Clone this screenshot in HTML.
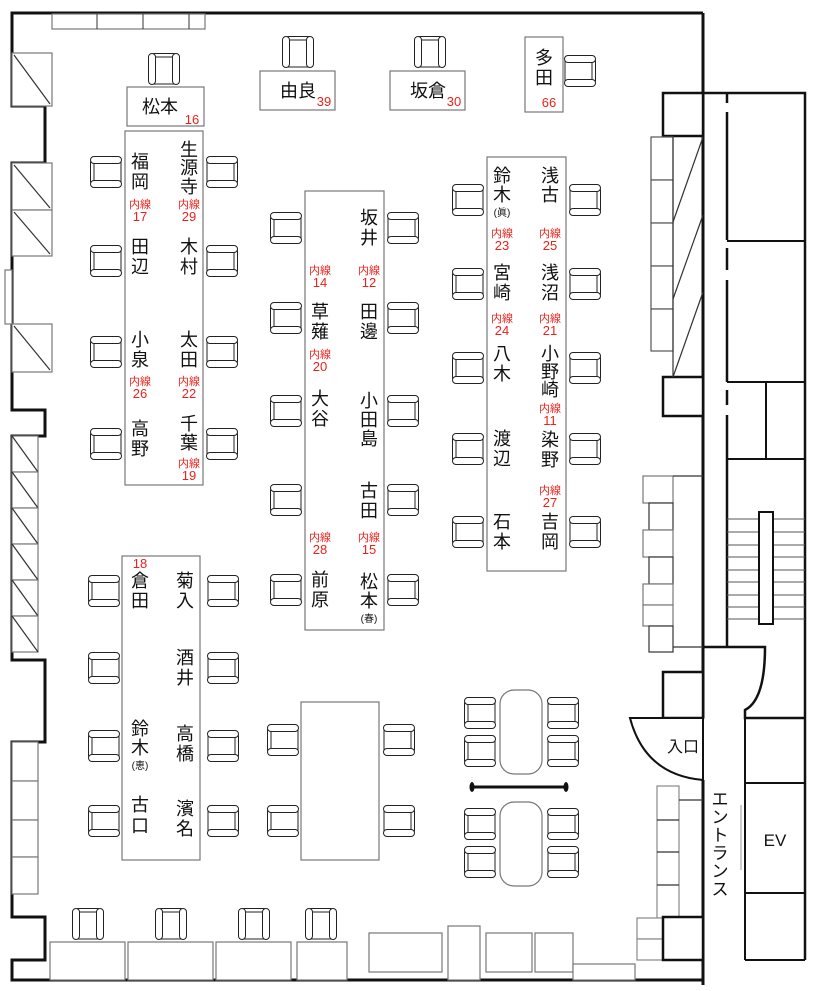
<!DOCTYPE html>
<html><head><meta charset="utf-8"><style>
html,body{margin:0;padding:0;background:#fff}
svg{display:block}
.n{font-family:"Liberation Sans","Noto Sans CJK JP",sans-serif;font-size:18px;text-anchor:middle;fill:#111}
.s{font-family:"Liberation Sans","Noto Sans CJK JP",sans-serif;font-size:10px;text-anchor:middle;fill:#111}
.r{font-family:"Liberation Sans","Noto Sans CJK JP",sans-serif;font-size:11px;text-anchor:middle;fill:#e8231c}
.rn{font-family:"Liberation Sans",sans-serif;font-size:13px;text-anchor:middle;fill:#e8231c}
.g{fill:#fff;stroke:#777;stroke-width:1.2}
.k{fill:none;stroke:#111;stroke-width:3}
.t{fill:none;stroke:#333;stroke-width:1.2}
</style></head><body>
<svg width="816" height="991" viewBox="0 0 816 991" xmlns="http://www.w3.org/2000/svg">
<defs>
<g id="c">
<rect x="0.5" y="3" width="7" height="26" rx="3.5" fill="#fff" stroke="#222" stroke-width="1"/>
<rect x="4" y="6" width="27" height="20" fill="#fff" stroke="#222" stroke-width="1"/>
<rect x="0.5" y="0.5" width="31" height="7" rx="3.5" fill="#fff" stroke="#222" stroke-width="1"/>
<rect x="0.5" y="24.5" width="31" height="7" rx="3.5" fill="#fff" stroke="#222" stroke-width="1"/>
</g>
</defs>
<!-- outer walls -->
<path class="k" d="M703,13 L12,13 L12,106 L45,106 L45,163 L12,163 L12,410 L45,410 L45,436 L12,436 L12,660 L45,660 L45,742 L12,742 L12,917 L45,917 L45,960 L12,960 L12,980 L703,980"/>
<line x1="703" y1="13" x2="703" y2="718" stroke="#111" stroke-width="3"/>
<line x1="703" y1="780" x2="703" y2="985" stroke="#111" stroke-width="3"/>
<!-- top shelf -->
<rect x="52" y="14" width="153" height="15" class="g"/>
<line x1="97" y1="14" x2="97" y2="29" stroke="#333"/><line x1="143" y1="14" x2="143" y2="29" stroke="#333"/><line x1="189" y1="14" x2="189" y2="29" stroke="#333"/>
<!-- left window panels -->
<g class="t">
<rect x="12" y="53" width="40" height="53" fill="#fff" stroke="#777"/><line x1="14" y1="55" x2="50" y2="104"/>
<rect x="12" y="163" width="40" height="47" fill="#fff" stroke="#777"/><line x1="14" y1="165" x2="50" y2="208"/>
<rect x="12" y="210" width="40" height="46" fill="#fff" stroke="#777"/><line x1="14" y1="212" x2="50" y2="254"/>
<rect x="5" y="270" width="7" height="54" fill="#fff" stroke="#777"/>
<rect x="12" y="324" width="40" height="48" fill="#fff" stroke="#777"/><line x1="14" y1="326" x2="50" y2="370"/>
<rect x="12" y="436" width="26" height="36" fill="#fff" stroke="#777"/><line x1="12" y1="436" x2="38" y2="472"/>
<rect x="12" y="472" width="26" height="36" fill="#fff" stroke="#777"/><line x1="12" y1="472" x2="38" y2="508"/>
<rect x="12" y="508" width="26" height="36" fill="#fff" stroke="#777"/><line x1="12" y1="508" x2="38" y2="544"/>
<rect x="12" y="544" width="26" height="36" fill="#fff" stroke="#777"/><line x1="12" y1="544" x2="38" y2="580"/>
<rect x="12" y="580" width="26" height="36" fill="#fff" stroke="#777"/><line x1="12" y1="580" x2="38" y2="616"/>
<rect x="12" y="616" width="26" height="36" fill="#fff" stroke="#777"/><line x1="12" y1="616" x2="38" y2="652"/>
<rect x="12" y="742" width="26" height="39" fill="#fff" stroke="#777"/>
<rect x="12" y="781" width="26" height="39" fill="#fff" stroke="#777"/>
<rect x="12" y="820" width="26" height="37" fill="#fff" stroke="#777"/>
<rect x="12" y="857" width="26" height="37" fill="#fff" stroke="#777"/>
</g>
<!-- right corridor & rooms -->
<rect x="663" y="93" width="40" height="43" fill="#fff" stroke="#111" stroke-width="2.5"/>
<rect x="663" y="377" width="40" height="39" fill="#fff" stroke="#111" stroke-width="2.5"/>
<g class="t">
<rect x="651" y="137" width="22" height="43" fill="#fff" stroke="#555"/>
<rect x="651" y="180" width="22" height="43" fill="#fff" stroke="#555"/>
<rect x="651" y="223" width="22" height="43" fill="#fff" stroke="#555"/>
<rect x="651" y="266" width="22" height="43" fill="#fff" stroke="#555"/>
<rect x="651" y="309" width="22" height="42" fill="#fff" stroke="#555"/>
<line x1="673" y1="137" x2="673" y2="377"/>
<line x1="703" y1="137" x2="673" y2="222"/><line x1="703" y1="215" x2="673" y2="299"/><line x1="703" y1="292" x2="673" y2="377"/>
</g>
<path d="M727,93 V103 M727,112 V240 M727,248 V270 M727,280 V382 M727,390 V405 M727,415 V647" stroke="#111" stroke-width="2.5" fill="none"/>
<path d="M703,93 H805 V718" stroke="#111" stroke-width="2.5" fill="none"/>
<line x1="727" y1="241" x2="805" y2="241" stroke="#111" stroke-width="2"/>
<line x1="727" y1="382" x2="805" y2="382" stroke="#111" stroke-width="2"/>
<line x1="766" y1="382" x2="766" y2="459" stroke="#111" stroke-width="2"/>
<line x1="727" y1="459" x2="805" y2="459" stroke="#111" stroke-width="2"/>
<g stroke="#555" stroke-width="1">
<line x1="727" y1="519" x2="805" y2="519"/><line x1="727" y1="532" x2="805" y2="532"/><line x1="727" y1="545" x2="805" y2="545"/><line x1="727" y1="557" x2="805" y2="557"/><line x1="727" y1="570" x2="805" y2="570"/><line x1="727" y1="582" x2="805" y2="582"/><line x1="727" y1="595" x2="805" y2="595"/><line x1="727" y1="607" x2="805" y2="607"/><line x1="727" y1="619" x2="805" y2="619"/>
</g>
<rect x="759" y="512" width="14" height="112" fill="#fff" stroke="#111" stroke-width="2"/>
<g class="t">
<rect x="643" y="476" width="30" height="27" fill="#fff" stroke="#777"/>
<rect x="649" y="503" width="24" height="27" fill="#fff"/>
<rect x="643" y="530" width="30" height="27" fill="#fff" stroke="#777"/>
<rect x="649" y="557" width="24" height="27" fill="#fff"/>
<rect x="643" y="584" width="30" height="21" fill="#fff" stroke="#777"/>
<rect x="643" y="605" width="30" height="21" fill="#fff" stroke="#777"/>
<rect x="649" y="626" width="24" height="26" fill="#fff"/>
<line x1="673" y1="476" x2="703" y2="476"/><line x1="673" y1="647" x2="703" y2="647"/>
</g>
<path d="M703,647 H765 Q765,700 745,710 V718 H805" stroke="#111" stroke-width="2.5" fill="none"/>
<rect x="663" y="672" width="40" height="46" fill="#fff" stroke="#111" stroke-width="2.5"/>
<path d="M630,718 H703 V780 Q645,775 630,718 Z" fill="#fff" stroke="#111" stroke-width="2"/>
<text class="n" x="683" y="752" style="font-size:16px">入口</text>
<line x1="745" y1="718" x2="745" y2="960" stroke="#111" stroke-width="2"/>
<line x1="805" y1="718" x2="805" y2="960" stroke="#111" stroke-width="2.5"/>
<line x1="745" y1="783" x2="805" y2="783" stroke="#111" stroke-width="2"/>
<line x1="745" y1="893" x2="805" y2="893" stroke="#111" stroke-width="2"/>
<line x1="745" y1="960" x2="805" y2="960" stroke="#111" stroke-width="2"/>
<line x1="741" y1="805" x2="741" y2="870" stroke="#999" stroke-width="1"/>
<text class="n" x="775" y="846" style="font-size:17px">EV</text>
<g class="n" style="font-size:17px">
<text x="720" y="805">エ</text><text x="720" y="823">ン</text><text x="720" y="841">ト</text><text x="720" y="859">ラ</text><text x="720" y="877">ン</text><text x="720" y="895">ス</text>
</g>
<g class="t">
<rect x="657" y="786" width="22" height="132" fill="#fff" stroke="#888"/>
<line x1="657" y1="820" x2="679" y2="820"/><line x1="657" y1="852" x2="679" y2="852"/><line x1="657" y1="885" x2="679" y2="885"/>
<line x1="679" y1="800" x2="703" y2="800"/>
<rect x="637" y="918" width="26" height="21" fill="#fff" stroke="#888"/>
<rect x="637" y="939" width="26" height="21" fill="#fff" stroke="#888"/>
</g>
<rect x="663" y="917" width="40" height="43" fill="#fff" stroke="#111" stroke-width="2.5"/>
<!-- bottom furniture -->
<g class="g">
<rect x="50" y="942" width="75" height="38"/><rect x="128" y="942" width="85" height="38"/><rect x="216" y="942" width="75" height="38"/><rect x="297" y="942" width="50" height="38"/>
<rect x="369" y="933" width="73" height="39"/><rect x="448" y="926" width="32" height="54"/><rect x="486" y="933" width="46" height="39"/><rect x="535" y="933" width="38" height="39"/><rect x="573" y="964" width="62" height="16"/>
</g>
<use href="#c" transform="translate(104,908) rotate(90)"/>
<use href="#c" transform="translate(187,908) rotate(90)"/>
<use href="#c" transform="translate(270,908) rotate(90)"/>
<use href="#c" transform="translate(337,908) rotate(90)"/>
<!-- top desks -->
<rect x="127" y="87" width="77" height="39" class="g"/>
<use href="#c" transform="translate(180,53) rotate(90)"/>
<text class="n" x="160" y="113">松本</text><text class="rn" x="192" y="124">16</text>
<rect x="260" y="71" width="75" height="39" class="g"/>
<use href="#c" transform="translate(314,36) rotate(90)"/>
<text class="n" x="298" y="97">由良</text><text class="rn" x="324" y="106">39</text>
<rect x="390" y="71" width="75" height="39" class="g"/>
<use href="#c" transform="translate(446,36) rotate(90)"/>
<text class="n" x="428" y="97">坂倉</text><text class="rn" x="454" y="106">30</text>
<rect x="525" y="37" width="38" height="75" class="g"/>
<use href="#c" transform="translate(596,55) scale(-1,1)"/>
<text class="n" x="544" y="64">多</text><text class="n" x="544" y="84">田</text><text class="rn" x="549" y="107">66</text>
<!-- Table A -->
<rect x="125" y="131" width="78" height="354" class="g"/>
<use href="#c" x="90" y="156"/><use href="#c" x="90" y="245"/><use href="#c" x="90" y="336"/><use href="#c" x="90" y="428"/>
<use href="#c" transform="translate(238,156) scale(-1,1)"/><use href="#c" transform="translate(238,245) scale(-1,1)"/><use href="#c" transform="translate(238,336) scale(-1,1)"/><use href="#c" transform="translate(238,428) scale(-1,1)"/>
<text class="n" x="140" y="168">福</text><text class="n" x="140" y="188">岡</text>
<text class="r" x="140" y="208">内線</text><text class="rn" x="140" y="221">17</text>
<text class="n" x="140" y="253">田</text><text class="n" x="140" y="273">辺</text>
<text class="n" x="140" y="346">小</text><text class="n" x="140" y="366">泉</text>
<text class="r" x="140" y="385">内線</text><text class="rn" x="140" y="398">26</text>
<text class="n" x="140" y="435">高</text><text class="n" x="140" y="455">野</text>
<text class="n" x="189" y="156">生</text><text class="n" x="189" y="174">源</text><text class="n" x="189" y="193">寺</text>
<text class="r" x="189" y="208">内線</text><text class="rn" x="189" y="221">29</text>
<text class="n" x="189" y="253">木</text><text class="n" x="189" y="273">村</text>
<text class="n" x="189" y="346">太</text><text class="n" x="189" y="366">田</text>
<text class="r" x="189" y="385">内線</text><text class="rn" x="189" y="398">22</text>
<text class="n" x="189" y="430">千</text><text class="n" x="189" y="449">葉</text>
<text class="r" x="189" y="467">内線</text><text class="rn" x="189" y="480">19</text>
<!-- Table B -->
<rect x="305" y="191" width="79" height="439" class="g"/>
<use href="#c" x="270" y="212"/><use href="#c" x="270" y="302"/><use href="#c" x="270" y="395"/><use href="#c" x="270" y="484"/><use href="#c" x="270" y="574"/>
<use href="#c" transform="translate(419,212) scale(-1,1)"/><use href="#c" transform="translate(419,302) scale(-1,1)"/><use href="#c" transform="translate(419,395) scale(-1,1)"/><use href="#c" transform="translate(419,484) scale(-1,1)"/><use href="#c" transform="translate(419,574) scale(-1,1)"/>
<text class="n" x="369" y="224">坂</text><text class="n" x="369" y="244">井</text>
<text class="r" x="369" y="274">内線</text><text class="rn" x="369" y="287">12</text>
<text class="n" x="369" y="318">田</text><text class="n" x="369" y="338">邊</text>
<text class="n" x="369" y="407">小</text><text class="n" x="369" y="426">田</text><text class="n" x="369" y="445">島</text>
<text class="n" x="369" y="497">古</text><text class="n" x="369" y="517">田</text>
<text class="r" x="369" y="541">内線</text><text class="rn" x="369" y="554">15</text>
<text class="n" x="369" y="588">松</text><text class="n" x="369" y="607">本</text><text class="s" x="369" y="622">(春)</text>
<text class="r" x="320" y="274">内線</text><text class="rn" x="320" y="287">14</text>
<text class="n" x="320" y="318">草</text><text class="n" x="320" y="338">薙</text>
<text class="r" x="320" y="358">内線</text><text class="rn" x="320" y="371">20</text>
<text class="n" x="320" y="405">大</text><text class="n" x="320" y="425">谷</text>
<text class="r" x="320" y="541">内線</text><text class="rn" x="320" y="554">28</text>
<text class="n" x="320" y="586">前</text><text class="n" x="320" y="606">原</text>
<!-- Table C -->
<rect x="487" y="157" width="79" height="414" class="g"/>
<use href="#c" x="452" y="184"/><use href="#c" x="452" y="268"/><use href="#c" x="452" y="352"/><use href="#c" x="452" y="433"/><use href="#c" x="452" y="516"/>
<use href="#c" transform="translate(601,184) scale(-1,1)"/><use href="#c" transform="translate(601,268) scale(-1,1)"/><use href="#c" transform="translate(601,352) scale(-1,1)"/><use href="#c" transform="translate(601,433) scale(-1,1)"/><use href="#c" transform="translate(601,516) scale(-1,1)"/>
<text class="n" x="502" y="182">鈴</text><text class="n" x="502" y="201">木</text><text class="s" x="502" y="216">(眞)</text>
<text class="r" x="502" y="237">内線</text><text class="rn" x="502" y="250">23</text>
<text class="n" x="502" y="279">宮</text><text class="n" x="502" y="299">崎</text>
<text class="r" x="502" y="322">内線</text><text class="rn" x="502" y="335">24</text>
<text class="n" x="502" y="360">八</text><text class="n" x="502" y="380">木</text>
<text class="n" x="502" y="445">渡</text><text class="n" x="502" y="465">辺</text>
<text class="n" x="502" y="528">石</text><text class="n" x="502" y="548">本</text>
<text class="n" x="550" y="182">浅</text><text class="n" x="550" y="201">古</text>
<text class="r" x="550" y="237">内線</text><text class="rn" x="550" y="250">25</text>
<text class="n" x="550" y="279">浅</text><text class="n" x="550" y="299">沼</text>
<text class="r" x="550" y="322">内線</text><text class="rn" x="550" y="335">21</text>
<text class="n" x="550" y="360">小</text><text class="n" x="550" y="378">野</text><text class="n" x="550" y="396">崎</text>
<text class="r" x="550" y="412">内線</text><text class="rn" x="550" y="425">11</text>
<text class="n" x="550" y="446">染</text><text class="n" x="550" y="466">野</text>
<text class="r" x="550" y="494">内線</text><text class="rn" x="550" y="507">27</text>
<text class="n" x="550" y="528">吉</text><text class="n" x="550" y="548">岡</text>
<!-- Table D -->
<rect x="122" y="556" width="78" height="304" class="g"/>
<use href="#c" x="88" y="575"/><use href="#c" x="88" y="652"/><use href="#c" x="88" y="730"/><use href="#c" x="88" y="805"/>
<use href="#c" transform="translate(239,575) scale(-1,1)"/><use href="#c" transform="translate(239,652) scale(-1,1)"/><use href="#c" transform="translate(239,730) scale(-1,1)"/><use href="#c" transform="translate(239,805) scale(-1,1)"/>
<text class="rn" x="140" y="568">18</text>
<text class="n" x="140" y="587">倉</text><text class="n" x="140" y="607">田</text>
<text class="n" x="140" y="735">鈴</text><text class="n" x="140" y="754">木</text><text class="s" x="140" y="769">(恵)</text>
<text class="n" x="140" y="811">古</text><text class="n" x="140" y="832">口</text>
<text class="n" x="185" y="587">菊</text><text class="n" x="185" y="607">入</text>
<text class="n" x="185" y="664">酒</text><text class="n" x="185" y="684">井</text>
<text class="n" x="185" y="740">高</text><text class="n" x="185" y="760">橋</text>
<text class="n" x="185" y="815">濱</text><text class="n" x="185" y="835">名</text>
<!-- Table E -->
<rect x="301" y="702" width="78" height="158" class="g"/>
<use href="#c" x="267" y="724"/><use href="#c" x="267" y="805"/>
<use href="#c" transform="translate(415,724) scale(-1,1)"/><use href="#c" transform="translate(415,805) scale(-1,1)"/>
<!-- round tables -->
<rect x="500" y="690" width="42" height="84" rx="14" class="g"/>
<rect x="500" y="802" width="42" height="84" rx="14" class="g"/>
<use href="#c" x="464" y="697"/><use href="#c" x="464" y="735"/><use href="#c" x="464" y="808"/><use href="#c" x="464" y="846"/>
<use href="#c" transform="translate(579,697) scale(-1,1)"/><use href="#c" transform="translate(579,735) scale(-1,1)"/><use href="#c" transform="translate(579,808) scale(-1,1)"/><use href="#c" transform="translate(579,846) scale(-1,1)"/>
<line x1="472" y1="787" x2="566" y2="787" stroke="#111" stroke-width="3"/>
<ellipse cx="472" cy="787" rx="2.5" ry="5" fill="#111"/><ellipse cx="566" cy="787" rx="2.5" ry="5" fill="#111"/>
</svg>
</body></html>
